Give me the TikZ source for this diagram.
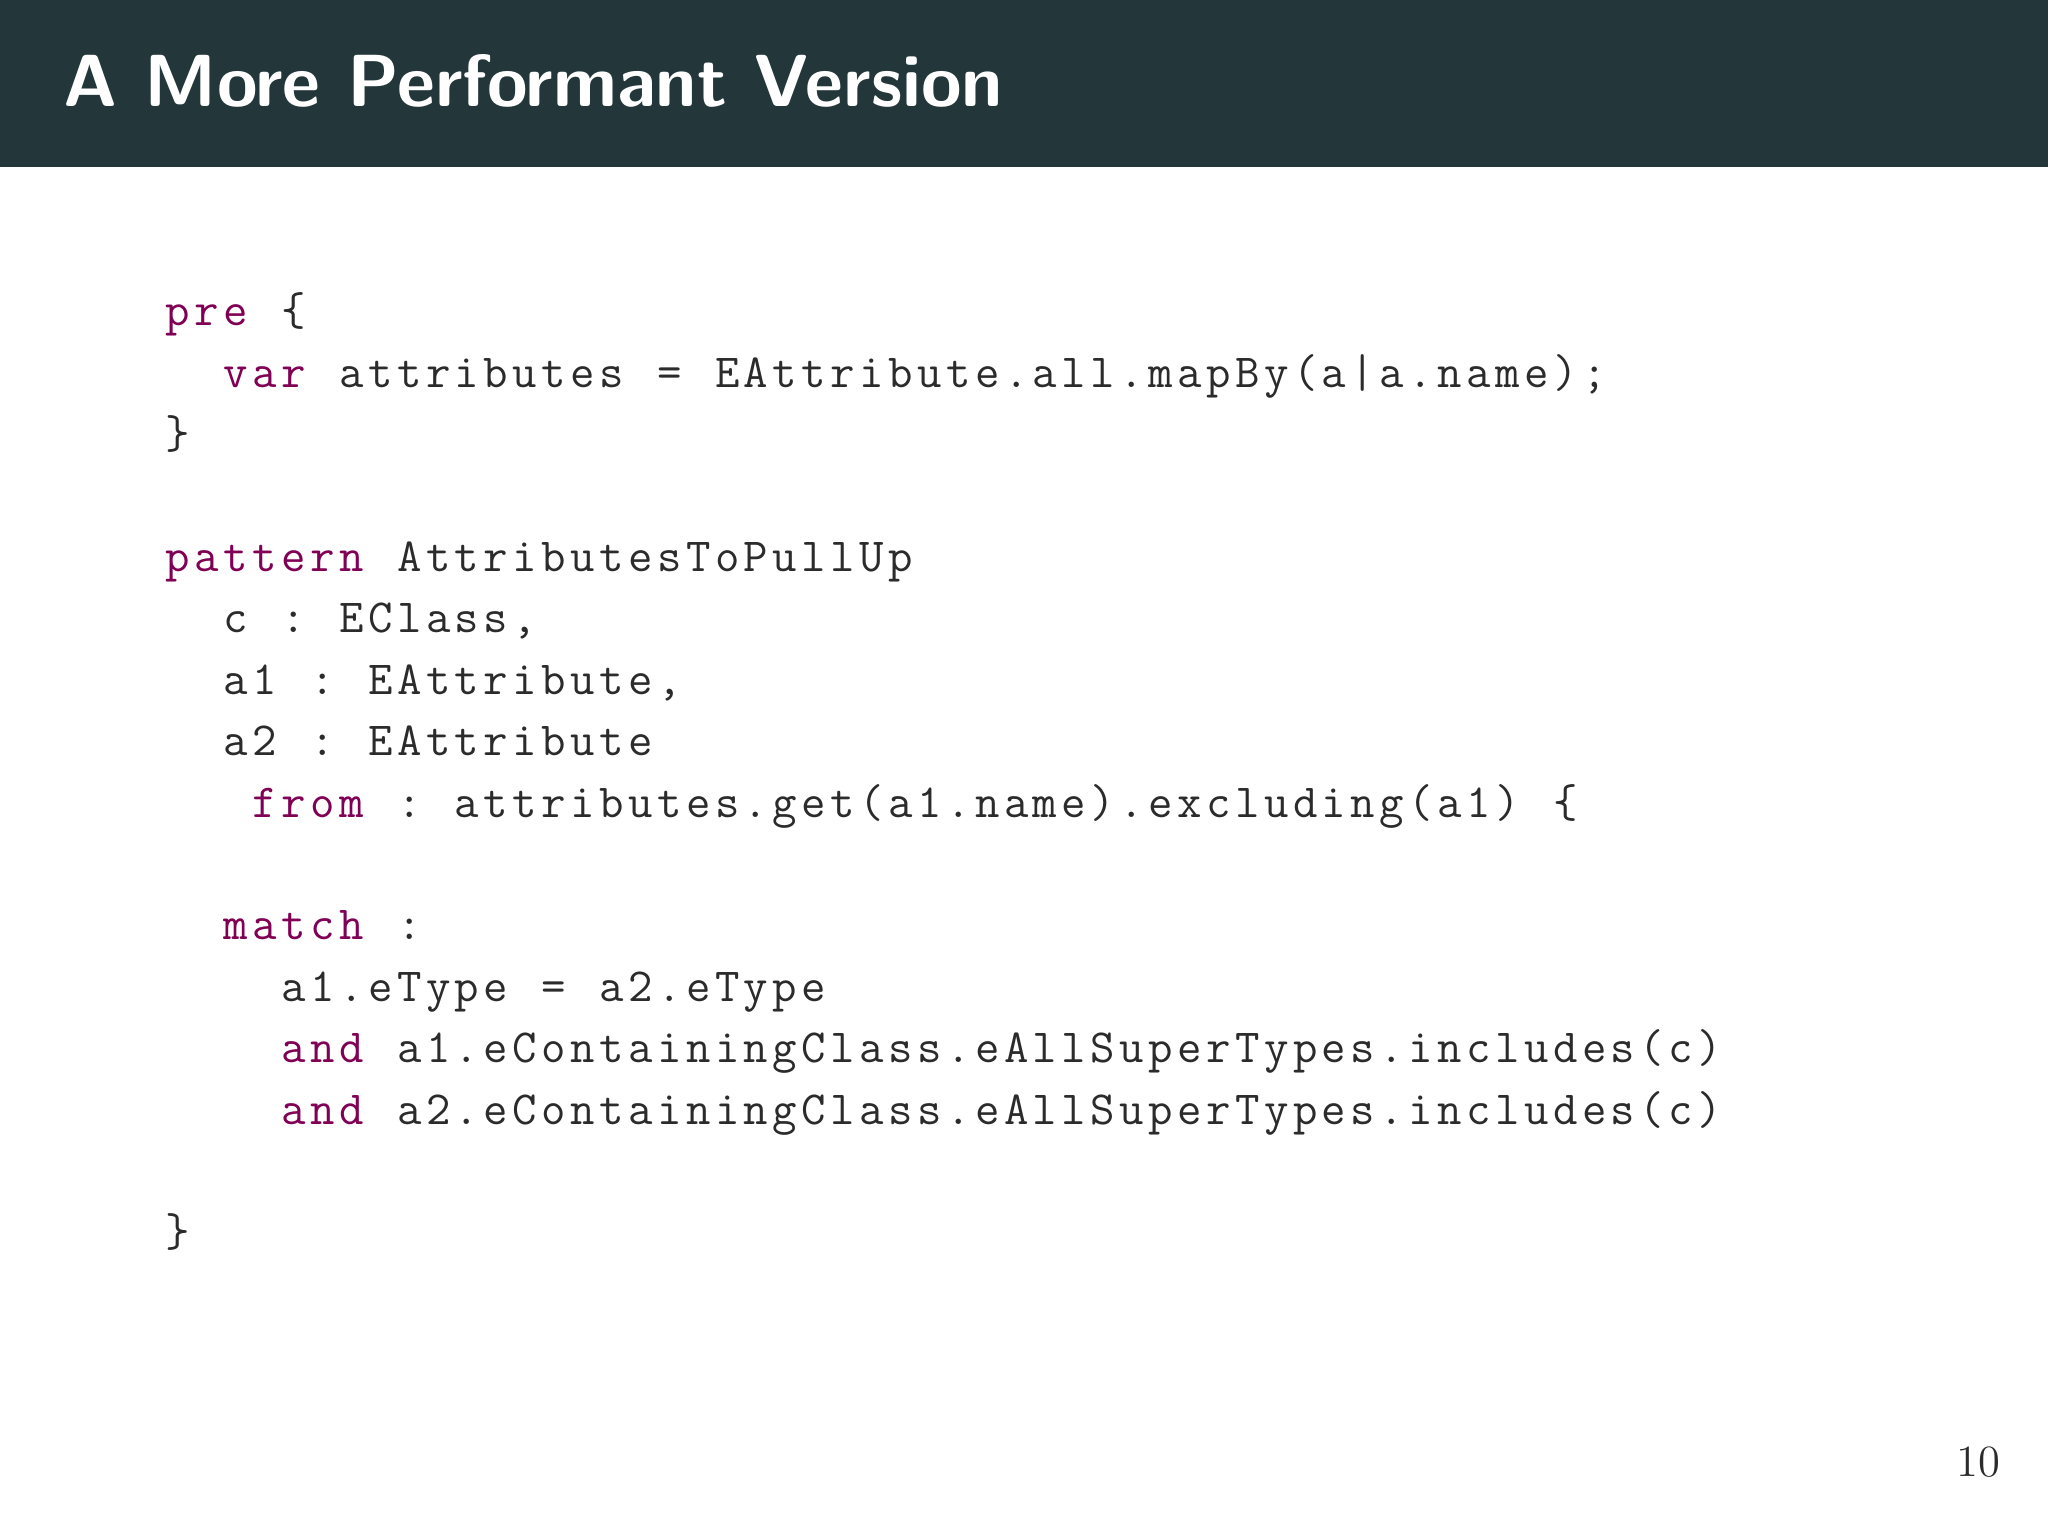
\documentclass[tikz,border=0pt]{standalone}
\usepackage{xcolor}
\definecolor{hdr}{HTML}{23373B}
\definecolor{kwc}{HTML}{7F0055}
\definecolor{txt}{HTML}{2B2B2B}
\newlength\colw \setlength\colw{0.289cm}
\def\mono#1{\ifx#1\relax\else\makebox[\colw][c]{\strut#1}\expandafter\mono\fi}
\newcommand\kw[1]{{\color{kwc}\mono#1\relax}}
\begin{document}
\begin{tikzpicture}[x=1cm,y=1cm,
  codeline/.style={anchor=base west,inner sep=0pt,text=txt,font=\ttfamily\fontsize{13.5pt}{16pt}\selectfont}]
\useasboundingbox (0,0) rectangle (20.48,-15.36);
\fill[white] (0,0) rectangle (20.48,-15.36);
\fill[hdr] (0,0) rectangle (20.48,-1.67);
\node[anchor=base west,inner sep=0pt,text=white,font=\sffamily\bfseries\fontsize{21pt}{25pt}\selectfont] (title) at (0.63,-1.07) {A More Performant Version};
\def\lx{1.63}
\def\ly#1{-3.26-#1*0.614}
\node[codeline] (l0) at (\lx,{\ly{0}}) {\kw{pre}\mono~\{\relax};
\node[codeline] (l1) at (\lx,{\ly{1}}) {\mono~~\relax\kw{var}\mono~attributes~=~EAttribute.all.mapBy(a|a.name);\relax};
\node[codeline] (l2) at (\lx,{\ly{2}}) {\mono\}\relax};
\node[codeline] (l4) at (\lx,{\ly{4}}) {\kw{pattern}\mono~AttributesToPullUp\relax};
\node[codeline] (l5) at (\lx,{\ly{5}}) {\mono~~c~:~EClass,\relax};
\node[codeline] (l6) at (\lx,{\ly{6}}) {\mono~~a1~:~EAttribute,\relax};
\node[codeline] (l7) at (\lx,{\ly{7}}) {\mono~~a2~:~EAttribute\relax};
\node[codeline] (l8) at (\lx,{\ly{8}}) {\mono~~~\relax\kw{from}\mono~:~attributes.get(a1.name).excluding(a1)~\{\relax};
\node[codeline] (l10) at (\lx,{\ly{10}}) {\mono~~\relax\kw{match}\mono~:\relax};
\node[codeline] (l11) at (\lx,{\ly{11}}) {\mono~~~~a1.eType~=~a2.eType\relax};
\node[codeline] (l12) at (\lx,{\ly{12}}) {\mono~~~~\relax\kw{and}\mono~a1.eContainingClass.eAllSuperTypes.includes(c)\relax};
\node[codeline] (l13) at (\lx,{\ly{13}}) {\mono~~~~\relax\kw{and}\mono~a2.eContainingClass.eAllSuperTypes.includes(c)\relax};
\node[codeline] (l15) at (\lx,{\ly{15}}) {\mono\}\relax};
\node[anchor=base east,inner sep=0pt,text=txt,font=\fontsize{12.7pt}{15pt}\selectfont] (pg) at (20.01,-14.76) {10};
\end{tikzpicture}
\end{document}
